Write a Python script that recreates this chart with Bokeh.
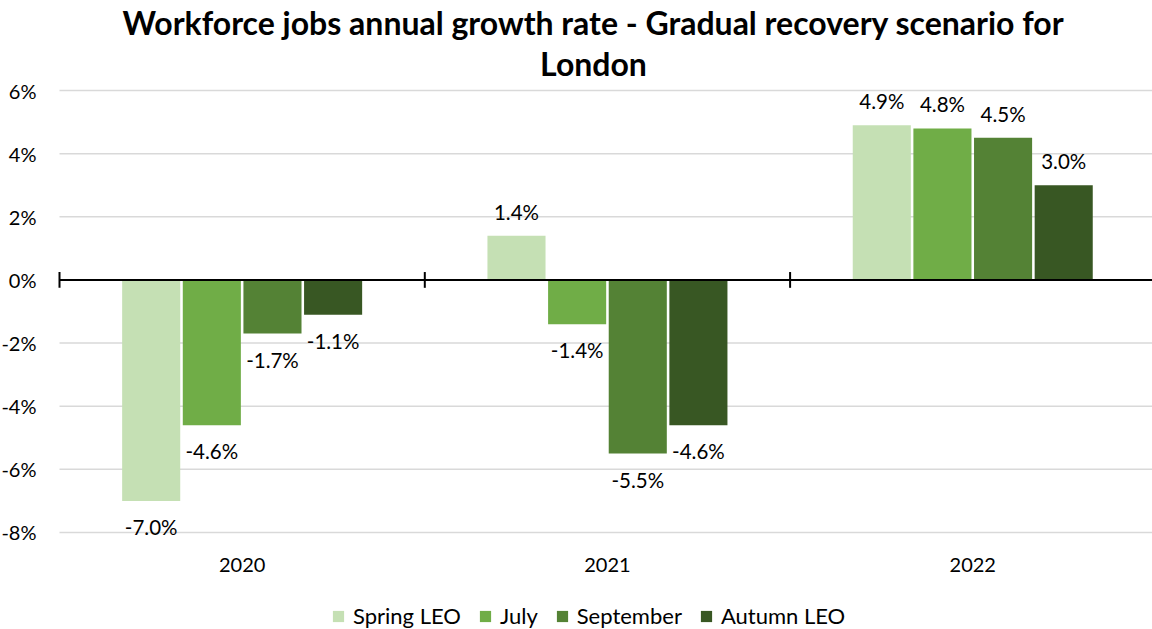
from bokeh.plotting import figure
from bokeh.models import ColumnDataSource, Range1d, Legend, LegendItem
from bokeh.core.properties import value
from bokeh.embed import file_html
from bokeh.resources import INLINE

title_lines = ["Workforce jobs annual growth rate - Gradual recovery scenario for", "London"]
years = ["2020", "2021", "2022"]
series_names = ["Spring LEO", "July", "September", "Autumn LEO"]
spring_leo = [-7.0, 1.4, 4.9]
july = [-4.6, -1.4, 4.8]
september = [-1.7, -5.5, 4.5]
autumn_leo = [-1.1, -4.6, 3.0]
series_values = [spring_leo, july, september, autumn_leo]
colors = ["#c5e0b4", "#70ad47", "#548235", "#385723"]
y_ticks = [-8, -6, -4, -2, 0, 2, 4, 6]
y_tick_labels = [f"{t}%" for t in y_ticks]

FONT = "Lato"
W, H = 1152, 629
LEFT_PX = 59        # pixel position of category boundary 0
CAT_PX = 365.3      # pixels per category
PCT_PX = 31.57      # pixels per percentage point
TOP_LINE_PX = 90    # pixel position of the top (6%) gridline
BOTTOM_LINE_PX = 532  # pixel position of the bottom (-8%) gridline

x_lo = -LEFT_PX / CAT_PX
x_hi = (W - LEFT_PX) / CAT_PX
y_hi = y_ticks[-1] + TOP_LINE_PX / PCT_PX
y_lo = y_ticks[0] - (H - BOTTOM_LINE_PX) / PCT_PX

p = figure(width=W, height=H, output_backend="svg", toolbar_location=None, title=None,
           x_range=Range1d(x_lo, x_hi), y_range=Range1d(y_lo, y_hi),
           min_border_left=0, min_border_right=0, min_border_top=0, min_border_bottom=0)
p.outline_line_color = None
p.background_fill_color = "white"
p.border_fill_color = "white"
p.xaxis.visible = False
p.yaxis.visible = False
p.xgrid.visible = False
p.ygrid.visible = False

n_cat = len(years)
bounds = list(range(n_cat + 1))
centers = [i + 0.5 for i in range(n_cat)]
mid_x = (x_lo + x_hi) / 2

# title (two lines)
p.text(x=[mid_x, mid_x], y=[y_ticks[-1]] * 2, text=title_lines, x_offset=17, y_offset=[-68, -27],
       text_align="center", text_baseline="middle",
       text_font=value(FONT), text_font_size="32px", text_font_style="bold", text_color="black")

# horizontal gridlines
p.segment(x0=[bounds[0]] * len(y_ticks), x1=[x_hi] * len(y_ticks), y0=y_ticks, y1=y_ticks,
          line_color="#d9d9d9", line_width=1.5)

# y tick labels
p.text(x=[bounds[0]] * len(y_ticks), y=y_ticks, text=y_tick_labels, x_offset=-23,
       text_align="right", text_baseline="middle",
       text_font=value(FONT), text_font_size="20px", text_color="black")

# category labels
p.text(x=centers, y=[y_ticks[0]] * n_cat, text=years, y_offset=33,
       text_align="center", text_baseline="middle",
       text_font=value(FONT), text_font_size="20px", text_color="black")

pitch = 0.166
bar_w = 0.159
items = []
for j, (name, vals, col) in enumerate(zip(series_names, series_values, colors)):
    xs = [c + (j - 1.5) * pitch for c in centers]
    src = ColumnDataSource(dict(
        x=xs, top=vals,
        label=[f"{v:.1f}%" for v in vals],
        yoff=[-24 if v >= 0 else 26 for v in vals],
    ))
    r = p.vbar(x="x", top="top", bottom=0, width=bar_w, source=src,
               fill_color=col, line_color=None)
    p.text(x="x", y="top", text="label", y_offset="yoff", source=src,
           text_align="center", text_baseline="middle",
           text_font=value(FONT), text_font_size="20.5px", text_color="black")
    items.append(LegendItem(label=name, renderers=[r]))

# zero line with category boundary ticks
p.segment(x0=[bounds[0]], x1=[x_hi], y0=[0], y1=[0], line_color="black", line_width=2)
p.segment(x0=bounds, x1=bounds, y0=[-0.25] * len(bounds), y1=[0.25] * len(bounds),
          line_color="black", line_width=2)

legend = Legend(items=items, orientation="horizontal", location=(331, 0),
                label_text_font=FONT, label_text_font_size="22px", label_text_color="black",
                glyph_width=14, glyph_height=14, label_standoff=8, spacing=17,
                border_line_color=None, background_fill_alpha=0, padding=0, margin=0)
p.add_layout(legend, "center")

open("out.html", "w").write(file_html(p, INLINE))
